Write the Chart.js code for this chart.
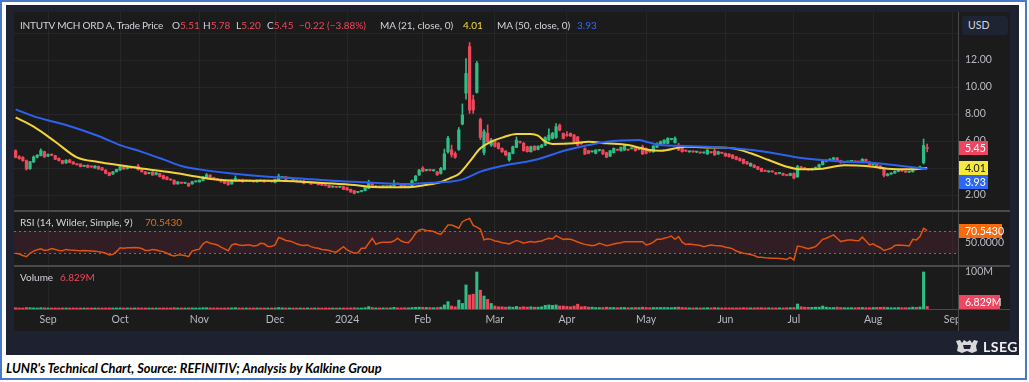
<!DOCTYPE html>
<html>
<head>
<meta charset="utf-8">
<script src="https://cdn.jsdelivr.net/npm/chart.js@4.4.1/dist/chart.umd.min.js"></script>
<style>
  html,body{margin:0;padding:0;}
  body{width:1029px;height:382px;background:#ffffff;position:relative;overflow:hidden;font-family:Lato,"Open Sans",sans-serif;}
  .abs{position:absolute;}
  #border{left:0;top:0;width:1023px;height:376px;border:2px solid #4a78c8;}
  #frame{left:6px;top:5px;width:1013px;height:350px;background:#1e2230;}
  #inner{left:14px;top:12px;width:996px;height:319px;background:#1b1b1b;}
  canvas{position:absolute;left:14px;}
  #c1{top:12px}#c2{top:212px}#c3{top:267px}
  .hl{position:absolute;left:14px;width:996px;background:#4a4a4a;}
  .lg{position:absolute;font-size:10px;color:#d1d4dc;white-space:nowrap;line-height:14px;}
  .tight{letter-spacing:-0.2px;}
  .red{color:#f0475b}.yel{color:#f5dc3a}.blu{color:#2f6bff}.org{color:#f06a12}
  #usd{left:962px;top:16px;width:46px;height:19px;background:#1f2433;border-radius:3px;color:#d1d4dc;font-size:10.5px;line-height:19px;text-indent:6px;}
  #cap{left:6px;top:360px;font-size:12.8px;font-weight:bold;font-style:italic;color:#000;white-space:nowrap;}
  #lseg{left:983px;top:338px;font-size:14px;font-weight:bold;color:#f0f0f0;letter-spacing:0.5px;}
</style>
</head>
<body>
<div id="border" class="abs"></div>
<div id="frame" class="abs"></div>
<div id="inner" class="abs"></div>
<canvas id="c1" width="996" height="198"></canvas>
<canvas id="c2" width="996" height="53"></canvas>
<canvas id="c3" width="996" height="64"></canvas>
<div class="hl" style="top:210px;height:2px"></div>
<div class="hl" style="top:265px;height:2px"></div>
<div class="hl" style="top:309px;height:1px"></div>
<div class="abs" style="left:958px;top:310px;width:52px;height:21px;background:#1b1b1b"></div>
<div class="abs" style="left:958px;top:12px;width:1px;height:319px;background:#4a4a4a"></div>
<div id="usd" class="abs">USD</div>
<div id="legend"></div>
<div id="lseg" class="abs">LSEG</div>
<svg class="abs" style="left:955px;top:339px" width="24" height="15" viewBox="0 0 24 15">
  <path d="M1 2 L5 1 L7 4 L9 1 L12 3 L15 1 L17 4 L19 1 L23 2 L21 7 L22 12 L17 14 L12 12 L7 14 L2 12 L3 7 Z" fill="#d8d8d8"/>
  <path d="M8 6 L16 6 L15 10 L9 10 Z" fill="#1e2230"/>
</svg>
<div id="cap" class="abs">LUNR's Technical Chart, Source: REFINITIV; Analysis by Kalkine Group</div>
<script>
// ---------------- DATA ----------------
const instrument = 'INTUTV MCH ORD A, Trade Price';
const monthIdx = [9,29,51,72,92,113,133,153,175,197,216,238,260];
const monthLabels = ['Sep','Oct','Nov','Dec','2024','Feb','Mar','Apr','May','Jun','Jul','Aug','Sep'];
const priceTicks = [2,4,6,8,10,12,14];
const priceTickLabels = ['2.00','4.00','6.00','8.00','10.00','12.00',''];
const rsiTicks = [50];
const rsiTickLabels = ['50.0000'];
const volTicks = [100];
const volTickLabels = ['100M'];

const opens = [
5.28,4.85,4.78,4.55,3.95,4.45,4.8,4.92,5.22,4.88,
5.0,4.92,4.72,4.55,4.38,4.6,4.45,4.3,4.3,4.12,
4.2,4.1,4.0,4.12,4.02,3.85,3.65,3.55,3.72,3.85,
4.1,3.95,4.1,4.02,4.15,3.88,3.72,3.6,3.7,3.5,
3.6,3.45,3.33,3.14,3.1,2.82,2.92,2.88,2.86,2.82,
2.98,2.97,3.07,3.32,3.48,3.3,3.2,3.15,3.05,2.98,
2.82,3.06,3.12,3.15,3.05,3.06,3.0,2.97,3.08,3.1,
3.03,3.0,2.93,3.12,3.3,3.35,3.25,3.22,3.1,3.0,
3.05,2.95,2.98,2.88,2.9,2.85,2.72,2.72,2.6,2.6,
2.58,2.62,2.55,2.42,2.32,2.2,2.26,2.32,2.5,2.85,
2.6,2.62,2.62,2.64,2.62,2.67,2.84,2.82,2.8,2.6,
2.66,3.06,3.48,4.0,3.82,3.85,3.8,3.72,3.6,3.9,
5.2,5.35,5.08,5.38,7.26,9.55,13.0,9.05,9.6,7.6,
5.15,6.57,5.7,6.0,5.83,5.45,5.25,4.6,5.09,5.53,
5.95,5.83,5.58,5.21,5.62,5.38,5.53,5.7,6.07,6.2,
6.27,7.18,6.57,6.45,6.57,6.44,6.3,5.83,5.45,5.28,
5.2,5.09,5.3,5.33,5.14,4.88,5.14,5.35,5.28,5.33,
5.35,5.43,5.53,5.38,5.58,5.45,5.22,5.2,5.53,5.7,
5.83,5.83,6.12,5.88,5.7,5.45,5.28,5.2,5.22,5.18,
5.14,5.12,5.04,5.16,5.28,5.04,5.12,5.09,5.04,4.96,
4.84,4.72,4.64,4.47,4.15,4.22,4.1,3.97,3.8,3.72,
3.74,3.65,3.6,3.6,3.48,3.45,3.6,3.35,4.08,4.02,
3.92,3.86,3.95,4.05,4.25,4.5,4.58,4.65,4.75,4.55,
4.4,4.45,4.5,4.5,4.46,4.45,4.65,4.45,4.25,4.3,
4.15,3.95,3.45,3.55,3.62,3.75,3.8,3.78,3.7,3.72,
3.98,3.9,4.4,5.51];
const highs = [
5.35,4.92,4.85,4.6,4.5,4.9,5.0,5.42,5.25,5.05,
5.05,4.95,4.75,4.58,4.62,4.65,4.48,4.33,4.32,4.22,
4.25,4.15,4.18,4.15,4.05,3.88,3.68,3.75,3.92,4.15,
4.15,4.15,4.14,4.1,4.28,3.9,3.75,3.66,3.74,3.68,
3.62,3.48,3.36,3.18,3.13,3.0,2.95,2.93,2.9,3.02,
3.04,3.12,3.38,3.6,3.5,3.32,3.23,3.18,3.08,3.0,
3.13,3.42,3.16,3.18,3.1,3.1,3.04,3.13,3.12,3.13,
3.08,3.04,3.18,3.55,3.36,3.38,3.3,3.25,3.13,3.08,
3.08,3.0,3.0,2.93,2.93,2.88,2.75,2.75,2.66,2.63,
2.63,2.65,2.58,2.45,2.35,2.26,2.32,2.6,3.1,2.9,
2.7,2.66,2.68,2.68,2.72,3.1,2.88,2.85,2.83,2.66,
3.1,3.45,3.9,4.1,3.9,3.92,3.88,3.76,4.05,5.4,
6.35,5.7,5.2,7.0,8.75,12.1,13.3,9.4,11.9,7.7,
6.85,7.2,6.2,6.08,5.9,5.5,5.3,5.15,5.62,6.3,
6.0,5.9,5.62,5.62,5.65,5.65,5.75,6.32,6.9,6.65,
7.3,7.26,6.6,6.7,6.6,6.5,6.35,5.88,5.5,5.32,
5.26,5.36,5.38,5.36,5.18,5.32,5.5,5.38,5.57,5.75,
5.38,5.5,5.57,5.45,5.7,5.5,5.26,5.66,5.87,6.0,
6.1,6.25,6.2,6.32,5.83,5.5,5.32,5.26,5.26,5.24,
5.18,5.18,5.36,5.2,5.42,5.24,5.16,5.12,5.07,5.0,
4.87,4.75,4.67,4.5,4.38,4.25,4.13,4.0,3.83,3.78,
3.77,3.68,3.66,3.63,3.5,3.62,3.65,4.2,4.12,4.05,
3.95,4.0,4.08,4.3,4.55,4.62,4.7,4.8,4.78,4.58,
4.5,4.52,4.55,4.52,4.5,4.7,4.67,4.48,4.35,4.32,
4.18,3.98,3.6,3.66,3.8,3.85,3.84,3.8,3.76,4.02,
4.0,4.15,6.15,5.78];
const lows = [
4.75,4.65,4.5,3.85,3.9,4.4,4.75,4.9,4.78,4.85,
4.9,4.62,4.5,4.3,4.35,4.38,4.28,4.22,4.08,4.1,
4.02,4.05,3.98,3.9,3.82,3.57,3.42,3.52,3.7,3.82,
3.9,3.92,3.97,4.0,3.85,3.7,3.52,3.57,3.45,3.48,
3.33,3.18,3.12,3.08,2.78,2.8,2.85,2.85,2.63,2.8,
2.96,2.95,3.05,3.3,3.22,3.12,3.08,2.95,2.83,2.72,
2.8,3.04,3.06,2.95,3.02,3.0,2.95,2.95,3.03,2.95,
3.0,2.95,2.9,3.1,3.27,3.14,3.22,3.04,2.95,2.97,
2.83,2.92,2.78,2.85,2.74,2.7,2.66,2.55,2.56,2.54,
2.55,2.4,2.35,2.2,2.08,2.16,2.22,2.3,2.48,2.54,
2.57,2.57,2.58,2.58,2.6,2.65,2.78,2.58,2.55,2.56,
2.64,3.02,3.45,3.72,3.78,3.78,3.76,3.45,3.55,3.85,
5.1,4.8,4.72,5.3,7.2,9.1,8.05,8.05,9.55,6.1,
4.98,5.85,5.6,5.55,5.4,5.15,4.9,4.5,5.05,5.5,
5.85,5.25,5.18,5.18,5.3,5.35,5.5,5.65,6.0,6.15,
6.2,6.75,6.15,6.35,6.33,5.9,5.65,5.75,5.0,5.05,
5.17,5.05,5.25,5.0,4.76,4.85,5.1,5.28,5.25,5.3,
5.28,5.4,5.25,5.35,5.0,5.05,5.16,5.16,5.5,5.66,
5.8,5.8,6.08,5.85,5.3,5.17,5.22,5.16,5.16,5.14,
5.08,5.08,5.0,5.1,4.93,5.0,5.06,4.86,4.8,4.68,
4.6,4.5,4.3,4.26,4.12,4.02,3.87,3.72,3.73,3.68,
3.68,3.53,3.56,3.45,3.42,3.42,3.2,3.3,3.95,3.88,
3.82,3.84,3.92,4.02,4.22,4.45,4.55,4.6,4.5,4.35,
4.38,4.42,4.45,4.42,4.4,4.43,4.4,4.2,4.22,4.1,
3.92,3.35,3.4,3.52,3.6,3.72,3.74,3.66,3.66,3.7,
3.86,3.88,4.3,5.2];
const closes = [
4.79,4.7,4.55,3.92,4.47,4.82,4.95,5.3,4.82,5.0,
4.95,4.65,4.55,4.35,4.58,4.4,4.3,4.25,4.1,4.2,
4.05,4.08,4.15,3.92,3.85,3.6,3.45,3.72,3.9,4.1,
3.92,4.1,4.0,4.05,3.88,3.72,3.55,3.62,3.48,3.65,
3.36,3.2,3.15,3.12,2.82,2.98,2.88,2.9,2.67,2.99,
3.0,3.1,3.35,3.5,3.25,3.15,3.1,2.98,2.86,2.76,
3.1,3.23,3.1,2.98,3.07,3.04,2.98,3.1,3.06,2.97,
3.05,2.98,3.15,3.4,3.32,3.16,3.27,3.06,2.98,3.04,
2.86,2.97,2.81,2.9,2.76,2.72,2.7,2.57,2.62,2.57,
2.6,2.42,2.37,2.22,2.12,2.22,2.28,2.57,2.86,2.57,
2.65,2.6,2.64,2.62,2.67,2.86,2.81,2.62,2.58,2.62,
3.06,3.4,3.85,3.75,3.85,3.82,3.83,3.5,3.98,5.05,
6.2,4.98,4.8,6.82,7.93,11.0,8.3,8.3,11.75,6.27,
6.7,5.95,6.07,5.6,5.45,5.2,4.97,5.12,5.58,6.07,
5.9,5.28,5.21,5.58,5.33,5.62,5.7,6.27,6.44,6.57,
7.06,6.81,6.2,6.4,6.37,5.95,5.7,5.8,5.03,5.09,
5.22,5.33,5.33,5.04,4.8,5.28,5.45,5.33,5.53,5.7,
5.33,5.45,5.28,5.4,5.04,5.09,5.2,5.63,5.83,5.95,
6.07,6.2,6.14,6.2,5.33,5.21,5.26,5.22,5.2,5.2,
5.12,5.14,5.33,5.14,4.97,5.21,5.1,4.89,4.84,4.72,
4.64,4.54,4.35,4.3,4.35,4.05,3.9,3.75,3.77,3.74,
3.72,3.56,3.62,3.48,3.45,3.6,3.25,4.1,4.02,3.92,
3.86,3.95,4.05,4.25,4.5,4.58,4.65,4.75,4.55,4.4,
4.45,4.5,4.5,4.46,4.45,4.65,4.45,4.25,4.3,4.15,
3.95,3.45,3.55,3.62,3.75,3.8,3.78,3.7,3.72,3.98,
3.9,4.1,5.67,5.45];
const volumes = [
3.5,2.5,2.5,4,3.5,3,2.5,3.5,3,2.5,
2.5,2.5,2.5,2.5,2.5,2.5,2,2,2.5,2,
2,2,2,2,2,2.5,3,2.5,2.5,3,
2.5,2.5,2,2,3,2.5,2.5,2,2.5,2,
2.5,3,2.5,2,3.5,2.5,2,2,3,3,
2.5,2.5,3.5,3.5,3,2.5,2,2,2.5,3,
3,3.5,2.5,2.5,2,2,2,2,2,2,
2,2,2.5,4,3,2.5,2,2,2,2,
2.5,2,2.5,2,2.5,2.5,2,2.5,2,2,
2,2.5,2.5,3,3.5,2.5,2.5,3.5,6.5,4,
3,3,3,3,3,4.5,3,3,3.5,3,
4,4.5,5,4.5,4,4,3.5,4,5,11,
20,8,6,24,15,65,38,40,100,51,
35,26,15,8,6,6,5,6,5,7,
5,6,5,6,5,5,6,10,11,10,
11,8,8,7,6,8,13,6,7,5,
5,4,4,4,5,4,4,3.5,4,4,
3.5,3.5,4,3.5,5,4,3.5,4,4,4,
4,4,3.5,4.5,5,4,3.5,3,3,3,
3,3,3.5,3,4,3,3,3,3,3,
3,3,3.5,3,3,3,3.5,3.5,3,3,
3,3,3,3,3.5,3.5,4,13.5,6,5,
4.5,4.5,5,5,8,5,4,4,5,4,
3.5,3.5,3.5,3.5,4,4,3.5,3.5,4,4.5,
4.5,5,4,3.5,3.5,4,3.5,3.5,3.5,5,
4.5,5.5,100,6.829];
const rsi = [
30,28.7,26,24,30,34,36.5,38,35,36,
38.5,37,35,34.7,37,36,35.5,35,34.7,35,
34.5,34,33.5,33,32,30,27,28,33,40,
39,40,40,40.5,40,38.5,35,35,37,36,
34,33,30,27,25,27,27,26,24,34,
36,37.5,47,51,48,46.7,45,41,38,34.7,
45,47,45,44,45,45,43,44,48,47,
42,42,45,58.6,56,53,52,50,47,45,
44,45,42,40,39,37,36.5,35,33,32,
37,42,36,33,30,31,39,39,48,57,
46,49,50,50,50,52,57,52,50,49,
56,66,72,73,71,70.6,69,66,64,72,
80.8,80.8,78,75,86.7,90,92.7,80,77,73,
54,56,55,52,51,49,48,46.7,50,52.7,
51,48,50,51,50,51,52,55,57,55.6,
61.6,58,55,55.6,55,53,50.3,48,46,45,
43.7,45,47.9,46,43.7,45,46.5,47.9,49,50.9,
50.9,50.9,50.9,50.9,50.9,44.9,46.7,50,55,55,
57,58.6,61,55,59.8,50,46,46.7,46,45,
44,42,43.5,45,44,43.7,43,41,40,38,
34,32,30,29,28,26,23,22.8,22,21.5,
21,21,20.5,20,19,22.8,18,43,42,40,
38,40,42,48,55,57,60,63,57,51,
52.5,54,54,53,52.6,59,52,45,47,43,
40,35,37,39,44,45,44.5,44,43,55,
54,60,74.8,70.543];
const ma21Idx = [0,5,11,17,23,29,35,42,48,55,61,67,73,79,88,94,98,105,110,114,118,121,123,126,129,132,135,139,143,145,147,149,155,159,164,170,175,179,186,193,199,204,209,214,218,224,230,236,242,248,253];
const ma21Vals = [7.75,7.06,5.95,4.79,4.45,4.2,3.97,3.72,3.47,3.16,3.06,3.06,3.06,2.99,2.86,2.74,2.62,2.57,2.6,2.75,2.97,3.3,3.56,4.47,5.46,5.95,6.25,6.52,6.52,6.4,5.95,5.78,5.83,5.95,5.83,5.7,5.38,5.28,5.58,5.52,5.46,5.09,4.59,4.1,3.9,3.95,4.2,4.15,3.95,3.9,4.01];
const ma50Idx = [0,6,14,23,29,35,41,46,51,60,70,79,88,97,109,115,121,124,129,134,144,153,159,164,173,175,179,186,199,208,218,228,238,246,253];
const ma50Vals = [8.35,7.75,7.19,6.37,5.7,5.2,4.64,4.15,3.9,3.6,3.36,3.23,3.06,2.94,2.81,2.91,3.0,3.16,3.73,4.1,4.59,5.33,5.7,5.95,6.07,5.95,5.7,5.63,5.46,5.21,4.74,4.5,4.37,4.15,3.93];

// ---------------- STYLE ----------------
const GREEN = '#2ebd85', RED = '#f0475b';
const GRID = '#262626', TXT = '#b7bac2';
const FONT = 'Lato';
Chart.defaults.font.family = FONT;
Chart.defaults.font.size = 10.5;
Chart.defaults.color = TXT;

const N = closes.length;
const idx = closes.map((_, i) => i);
const up = idx.map(i => closes[i] >= opens[i]);
const barCols = up.map(u => u ? GREEN : RED);

// ---------------- LEGEND TEXT ----------------
const last = N - 1;
const chg = closes[last] - closes[last - 1];
const pct = chg / closes[last - 1] * 100;
const fmt = v => v.toFixed(2);
const minus = v => (v < 0 ? '\u2212' + Math.abs(v).toFixed(2) : v.toFixed(2));
const legendItems = [
  [20, 18, instrument, 'tight'],
  [172, 18, 'O<span class="red">' + fmt(opens[last]) + '</span>', ''],
  [203, 18, 'H<span class="red">' + fmt(highs[last]) + '</span>', ''],
  [236, 18, 'L<span class="red">' + fmt(lows[last]) + '</span>', ''],
  [267, 18, 'C<span class="red">' + fmt(closes[last]) + '</span>', ''],
  [299, 18, minus(chg) + ' (' + minus(pct) + '%)', 'red'],
  [380, 18, 'MA (21, close, 0)', ''],
  [463, 18, fmt(ma21Vals[ma21Vals.length - 1]), 'yel'],
  [497, 18, 'MA (50, close, 0)', ''],
  [577, 18, fmt(ma50Vals[ma50Vals.length - 1]), 'blu'],
  [20, 215, 'RSI (14, Wilder, Simple, 9)', ''],
  [145, 215, rsi[last].toFixed(4), 'org'],
  [20, 270, 'Volume', ''],
  [60, 270, volumes[last].toFixed(3) + 'M', 'red']
];
const lg = document.getElementById('legend');
legendItems.forEach(([x, y, html, cls]) => {
  const d = document.createElement('div');
  d.className = 'lg ' + cls;
  d.style.left = x + 'px';
  d.style.top = y + 'px';
  d.innerHTML = html;
  lg.appendChild(d);
});

// ---------------- HELPERS ----------------
function zeroPad(s) { s.paddingTop = 0; s.paddingBottom = 0; s.paddingLeft = 0; s.paddingRight = 0; }
function xScale(showLabels) {
  return {
    type: 'linear', min: -0.45, max: 261.55, offset: false,
    afterBuildTicks: s => { s.ticks = monthIdx.map(v => ({ value: v })); },
    ticks: { display: showLabels, autoSkip: false, maxRotation: 0, color: TXT, padding: 4,
             callback: (v, i) => monthLabels[i] },
    grid: { color: GRID, drawTicks: false, offset: false },
    border: { display: false },
    afterFit: s => { s.height = showLabels ? 22 : 0; zeroPad(s); }
  };
}
function yScale(min, max, ticks, labels, showGrid) {
  return {
    position: 'right', min: min, max: max,
    afterBuildTicks: s => { s.ticks = ticks.map(v => ({ value: v })); },
    ticks: { color: TXT, padding: 7, callback: (v, i) => labels[i] },
    grid: { display: showGrid, color: GRID, drawTicks: false },
    border: { display: false },
    afterFit: s => { s.width = 52; zeroPad(s); }
  };
}
function drawTag(ctx, area, y, text, bg, fg, w) {
  ctx.save();
  ctx.fillStyle = bg;
  ctx.fillRect(area.right + 1, Math.round(y - 7), w, 14);
  ctx.fillStyle = fg;
  ctx.font = '10.5px ' + FONT;
  ctx.textBaseline = 'middle';
  ctx.textAlign = 'left';
  ctx.fillText(text, area.right + 7, Math.round(y) + 0.5);
  ctx.restore();
}
const common = { responsive: false, animation: false, devicePixelRatio: 1,
  layout: { padding: 0 }, plugins: { legend: { display: false }, tooltip: { enabled: false } } };

// ---------------- PRICE CHART ----------------
const priceTagPlugin = {
  id: 'priceTags',
  afterDraw(chart) {
    const s = chart.scales.y, a = chart.chartArea, ctx = chart.ctx;
    const tags = [
      { v: closes[last], bg: '#ee4560', fg: '#ffffff' },
      { v: ma21Vals[ma21Vals.length - 1], bg: '#f7e93b', fg: '#131722' },
      { v: ma50Vals[ma50Vals.length - 1], bg: '#2c68f5', fg: '#ffffff' }
    ];
    let prev = -1e9;
    tags.forEach(t => {
      let y = s.getPixelForValue(t.v);
      if (y < prev + 14) y = prev + 14;
      prev = y;
      drawTag(ctx, a, y, t.v.toFixed(2), t.bg, t.fg, 29);
    });
  }
};
new Chart(document.getElementById('c1'), {
  type: 'bar',
  data: { datasets: [
    { type: 'line', data: ma21Idx.map((x, k) => ({ x: x, y: ma21Vals[k] })), borderColor: '#f2d43a',
      borderWidth: 2, pointRadius: 0, cubicInterpolationMode: 'monotone', order: 1 },
    { type: 'line', data: ma50Idx.map((x, k) => ({ x: x, y: ma50Vals[k] })), borderColor: '#2d62f0',
      borderWidth: 2, pointRadius: 0, cubicInterpolationMode: 'monotone', order: 0 },
    { data: idx.map(i => ({ x: i, y: [lows[i], highs[i]] })), backgroundColor: barCols,
      barThickness: 1, grouped: false, order: 3 },
    { data: idx.map(i => ({ x: i, y: [opens[i], closes[i]] })), backgroundColor: barCols,
      barThickness: 2.6, minBarLength: 1, grouped: false, order: 2 }
  ] },
  options: Object.assign({}, common, {
    scales: { x: xScale(false), y: yScale(0.89, 15.56, priceTicks, priceTickLabels, true) }
  }),
  plugins: [priceTagPlugin]
});

// ---------------- RSI CHART ----------------
const rsiPlugin = {
  id: 'rsiBand',
  beforeDatasetsDraw(chart) {
    const s = chart.scales.y, a = chart.chartArea, ctx = chart.ctx;
    const y70 = s.getPixelForValue(70), y30 = s.getPixelForValue(30);
    ctx.save();
    ctx.fillStyle = 'rgba(126, 40, 70, 0.22)';
    ctx.fillRect(a.left, y70, a.right - a.left, y30 - y70);
    ctx.strokeStyle = '#707070';
    ctx.lineWidth = 1;
    ctx.setLineDash([2, 3]);
    [y70, y30].forEach(y => {
      ctx.beginPath();
      ctx.moveTo(a.left, Math.round(y) + 0.5);
      ctx.lineTo(a.right, Math.round(y) + 0.5);
      ctx.stroke();
    });
    ctx.restore();
  },
  afterDraw(chart) {
    const s = chart.scales.y;
    drawTag(chart.ctx, chart.chartArea, s.getPixelForValue(rsi[last]), rsi[last].toFixed(4), '#f96a0d', '#ffffff', 43);
  }
};
new Chart(document.getElementById('c2'), {
  type: 'line',
  data: { datasets: [
    { data: idx.map(i => ({ x: i, y: rsi[i] })), borderColor: '#e0540f', borderWidth: 1.5, pointRadius: 0, tension: 0 }
  ] },
  options: Object.assign({}, common, {
    scales: { x: xScale(false), y: yScale(9, 104.1, rsiTicks, rsiTickLabels, false) }
  }),
  plugins: [rsiPlugin]
});

// ---------------- VOLUME CHART ----------------
const volPlugin = {
  id: 'volTag',
  afterDraw(chart) {
    const s = chart.scales.y, a = chart.chartArea;
    const y = Math.min(s.getPixelForValue(volumes[last]), a.bottom - 7);
    drawTag(chart.ctx, a, y, volumes[last].toFixed(3) + 'M', '#ee4560', '#ffffff', 41);
  }
};
new Chart(document.getElementById('c3'), {
  type: 'bar',
  data: { datasets: [
    { data: idx.map(i => ({ x: i, y: volumes[i] })), backgroundColor: barCols, barThickness: 2.4, minBarLength: 1 }
  ] },
  options: Object.assign({}, common, {
    scales: { x: xScale(true), y: yScale(0, 113.5, volTicks, volTickLabels, false) }
  }),
  plugins: [volPlugin]
});
</script>
</body>
</html>
